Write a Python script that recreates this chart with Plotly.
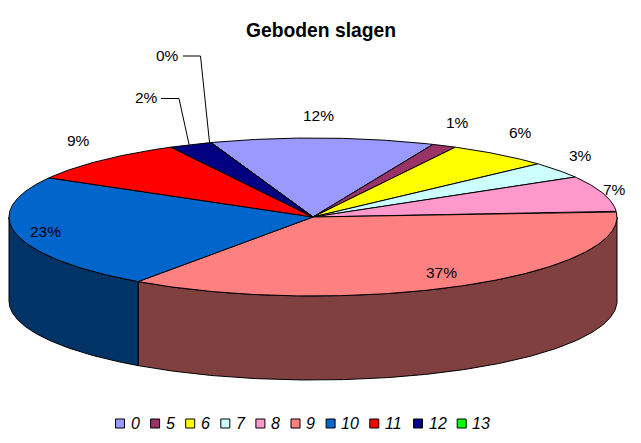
import numpy as np
import plotly.graph_objects as go

# ---- data ----
categories = ["0", "5", "6", "7", "8", "9", "10", "11", "12", "13"]
shares = [11.9, 1.3, 5.5, 3.3, 7.3, 35.9, 23.5, 9.0, 2.3, 0.0]      # drawn sweep of each slice
percent_labels = [12, 1, 6, 3, 7, 37, 23, 9, 2, 0]                  # printed labels
title_text = "Geboden slagen"

# ---- style ----
top_colors = ["#9999FF", "#993366", "#FFFF00", "#CCFFFF", "#FF99CC", "#FF8080",
              "#0066CC", "#FF0000", "#000080", "#00FF00"]
wall_colors = {"9": "#804040", "10": "#003366"}

# ---- layout geometry (pixels of the plain 641x443 axis frame) ----
W, H = 641, 443
CX, CY, RX, RY, DEPTH = 313.0, 217.0, 304.0, 79.0, 84.0
START_DEG = -19.6
label_pos = [(318, 115.5), (457.5, 122), (520, 132.5), (580, 155), (614, 189.5),
             (441, 272.5), (45, 231.5), (78, 140), (146, 97), (167.5, 55)]
leader_elbows = {"12": [(161, 98.5), (179, 98.5)], "13": [(183, 56), (200.5, 56)]}
LEGEND_X0, LEGEND_Y = 120.0, 423.5


def rim(deg, drop=0.0):
    a = np.radians(np.asarray(deg, dtype=float))
    return CX + RX * np.sin(a), CY - RY * np.cos(a) + drop


def arc(a, b):
    return np.linspace(a, b, max(2, int(abs(b - a) * 2) + 2))


edges = START_DEG + np.concatenate([[0], np.cumsum(shares)]) * 360.0 / sum(shares)
fig = go.Figure()

# side walls (only the part of the rim facing the viewer)
for i, cat in enumerate(categories):
    lo, hi = max(edges[i], 90.0), min(edges[i + 1], 270.0)
    if hi <= lo:
        continue
    t = arc(lo, hi)
    x, y = rim(t)
    xb, yb = rim(t[::-1], DEPTH)
    fig.add_trace(go.Scatter(
        x=np.r_[x, xb, x[0]], y=np.r_[y, yb, y[0]], mode="lines", fill="toself",
        fillcolor=wall_colors.get(cat, top_colors[i]), line=dict(color="black", width=1),
        name=cat, showlegend=False, hoverinfo="skip"))

# top face
for i, cat in enumerate(categories):
    x, y = rim(arc(edges[i], edges[i + 1]))
    fig.add_trace(go.Scatter(
        x=np.r_[CX, x, CX], y=np.r_[CY, y, CY], mode="lines", fill="toself",
        fillcolor=top_colors[i], line=dict(color="black", width=1),
        name=cat, showlegend=False, hoverinfo="skip"))

# leader lines
for cat, elbow in leader_elbows.items():
    i = categories.index(cat)
    ex, ey = rim((edges[i] + edges[i + 1]) / 2)
    fig.add_trace(go.Scatter(
        x=[elbow[0][0], elbow[1][0], float(ex) - 1.5], y=[elbow[0][1], elbow[1][1], float(ey)],
        mode="lines", line=dict(color="black", width=1), showlegend=False, hoverinfo="skip"))

# percentage labels
for pct, (lx, ly) in zip(percent_labels, label_pos):
    fig.add_annotation(x=lx, y=ly, text=f"{pct}%", showarrow=False, xanchor="center", yanchor="middle",
                       font=dict(family="Liberation Sans", size=15.5, color="black"))

# legend row
cursor = LEGEND_X0
for i, cat in enumerate(categories):
    fig.add_trace(go.Scatter(
        x=[cursor], y=[LEGEND_Y], mode="markers",
        marker=dict(symbol="square", size=9, color=top_colors[i], line=dict(color="black", width=1)),
        name=cat, showlegend=False, hoverinfo="skip"))
    fig.add_annotation(x=cursor + 8.5, y=LEGEND_Y, text=f"<i>{cat}</i>", showarrow=False,
                       xanchor="left", yanchor="middle",
                       font=dict(family="Liberation Sans", size=16, color="black"))
    cursor += 26.5 + 8.6 * len(cat)

fig.update_layout(
    width=W, height=H, autosize=False, margin=dict(l=0, r=0, t=0, b=0),
    paper_bgcolor="white", plot_bgcolor="white", showlegend=False,
    xaxis=dict(range=[0, W], visible=False, fixedrange=True),
    yaxis=dict(range=[H, 0], visible=False, fixedrange=True),
    annotations=list(fig.layout.annotations) + [dict(
        x=320.5, y=30, text=f"<b>{title_text}</b>", showarrow=False, xanchor="center", yanchor="middle",
        font=dict(family="Liberation Sans", size=19.3, color="black"))],
)
fig.write_html("out.html", config={"displayModeBar": False},
               post_script="document.body.style.margin='0';document.body.style.overflow='hidden';")
